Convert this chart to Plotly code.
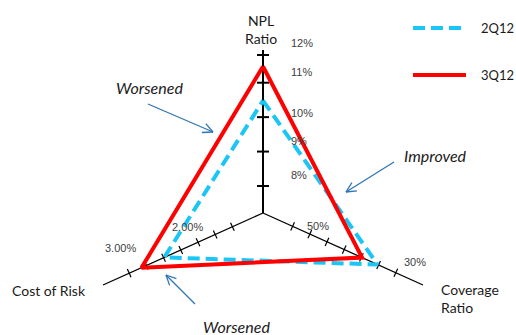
import numpy as np
import plotly.graph_objects as go

# ---- data -------------------------------------------------------------
quarters = ["2Q12", "3Q12"]
npl_ratio = [10.48, 11.47]        # NPL ratio, %
coverage_ratio = [35.3, 39.8]     # coverage ratio, %
cost_of_risk = [2.49, 2.82]       # cost of risk, %

npl_ticks = [8, 9, 10, 11]
npl_tick_labels = ["8%", "9%", "10%", "11%"]
npl_top_label = "12%"
cor_ticks = [1.5, 1.75, 2.0, 2.25, 2.5, 2.75, 3.0]
cor_labelled = [2.0, 3.0]
cor_labels = ["2.00%", "3.00%"]
cov_ticks = [60, 55, 50, 45, 40, 35, 30]
cov_labelled = [50, 30]
cov_labels = ["50%", "30%"]

series_colors = ["#1AC6F5", "#FF0000"]
series_dash = ["12px,6px", "solid"]

# ---- geometry of the three spokes --------------------------------------
W, H = 516, 335
CX, CY = 263, 213          # hub
SLOPE = 0.45               # lower spokes: dy per dx
SPOKE_DX = 160             # horizontal reach of lower spokes
NPL_TOP = 50               # top end of the vertical spoke
NPL_END_TICK = 55


def npl_pos(v):
    return CX, 186 - (v - 8) * 34.43


def cor_pos(v):
    dx = 65 + (v - 2.0) * 68.8
    return CX - dx, CY + SLOPE * dx


def cov_pos(v):
    dx = 64 + (50 - v) * 3.44
    return CX + dx, CY + SLOPE * dx


fig = go.Figure()
shapes = []
annotations = []


def seg(x0, y0, x1, y1, color="black", width=1.3, layer="below", dash="solid"):
    shapes.append(dict(type="line", x0=x0, y0=y0, x1=x1, y1=y1, xref="x", yref="y",
                       layer=layer, line=dict(color=color, width=width, dash=dash)))


def label(x, y, text, font, xanchor="center", align="center"):
    annotations.append(dict(x=x, y=y, text=text, showarrow=False, xanchor=xanchor,
                            yanchor="middle", align=align, font=font))


# spokes
seg(CX, CY, CX, NPL_TOP, width=2)
seg(CX, CY, CX - SPOKE_DX, CY + SLOPE * SPOKE_DX)
seg(CX, CY, CX + SPOKE_DX, CY + SLOPE * SPOKE_DX)

# vertical spoke ticks
for y in [npl_pos(v)[1] for v in npl_ticks] + [NPL_END_TICK]:
    seg(CX - 6, y, CX + 6, y, width=2)

# lower spoke ticks (perpendicular to the spoke)
half = 4.5
nrm = np.hypot(SLOPE, 1)
for v in cor_ticks:
    x, y = cor_pos(v)
    nx, ny = SLOPE / nrm, 1 / nrm
    seg(x - half * nx, y - half * ny, x + half * nx, y + half * ny, width=1.2)
for v in cov_ticks:
    x, y = cov_pos(v)
    nx, ny = -SLOPE / nrm, 1 / nrm
    seg(x - half * nx, y - half * ny, x + half * nx, y + half * ny, width=1.2)

# tick labels
tick_font = dict(family="Liberation Sans, Arial, sans-serif", size=11, color="#404040")
npl_label_nudge = [-11, -11, -4, -11]
for v, t, d in zip(npl_ticks, npl_tick_labels, npl_label_nudge):
    x, y = npl_pos(v)
    label(x + 26, y + d, t, tick_font, xanchor="left")
label(CX + 26, NPL_END_TICK - 12, npl_top_label, tick_font, xanchor="left")
for v, t, (ox, oy) in zip(cor_labelled, cor_labels, [(-11, -15), (-9, -25)]):
    x, y = cor_pos(v)
    label(x + ox, y + oy, t, tick_font)
for v, t, (ox, oy) in zip(cov_labelled, cov_labels, [(-9, -16), (19, -11)]):
    x, y = cov_pos(v)
    label(x + ox, y + oy, t, tick_font)

# series triangles
for q, npl, cov, cor, col, dash in zip(quarters, npl_ratio, coverage_ratio,
                                       cost_of_risk, series_colors, series_dash):
    pts = [npl_pos(npl), cov_pos(cov), cor_pos(cor)]
    xs = [p[0] for p in pts] + [pts[0][0]]
    ys = [p[1] for p in pts] + [pts[0][1]]
    fig.add_trace(go.Scatter(x=xs, y=ys, mode="lines", name=q,
                             line=dict(color=col, width=4, dash=dash),
                             hoverinfo="skip", showlegend=False))

# legend
legend_font = dict(family="Lato, sans-serif", size=13, color="#1a1a1a")
for i, (q, col, dash) in enumerate(zip(quarters, series_colors, series_dash)):
    ly = 28 + 47 * i
    seg(413, ly, 461 if i == 0 else 466, ly, color=col, width=4, layer="above", dash=dash)
    label(479, ly, q, legend_font, xanchor="left")

# spoke titles
title_font = dict(family="Lato, sans-serif", size=14, color="#1a1a1a")
label(CX - 2, 29, "NPL<br>Ratio", title_font)
label(49, 290, "Cost of Risk", title_font)
label(439, 298, "Coverage<br>Ratio", title_font, xanchor="left", align="left")

# call-outs
note_font = dict(family="Lato, sans-serif", size=16, color="#1a1a1a")
for txt, x, y in [("<i>Worsened</i>", 149, 87), ("<i>Improved</i>", 435, 155),
                  ("<i>Worsened</i>", 236, 326)]:
    label(x, y, txt, note_font)

ARROW = "#2E75B6"


def arrow(x0, y0, x1, y1):
    seg(x0, y0, x1, y1, color=ARROW, width=1.3, layer="above")
    ang = np.arctan2(y0 - y1, x0 - x1)
    for s in (-0.45, 0.45):
        seg(x1, y1, x1 + 11 * np.cos(ang + s), y1 + 11 * np.sin(ang + s),
            color=ARROW, width=1.3, layer="above")


arrow(148, 104, 213, 132)
arrow(394, 162, 346, 192)
arrow(195, 304, 166, 275)

fig.update_layout(
    width=W, height=H, margin=dict(l=0, r=0, t=0, b=0),
    paper_bgcolor="white", plot_bgcolor="white",
    xaxis=dict(range=[0, W], visible=False, fixedrange=True),
    yaxis=dict(range=[H, 0], visible=False, fixedrange=True),
    shapes=shapes, annotations=annotations, showlegend=False,
)

fig.write_html("out.html")
